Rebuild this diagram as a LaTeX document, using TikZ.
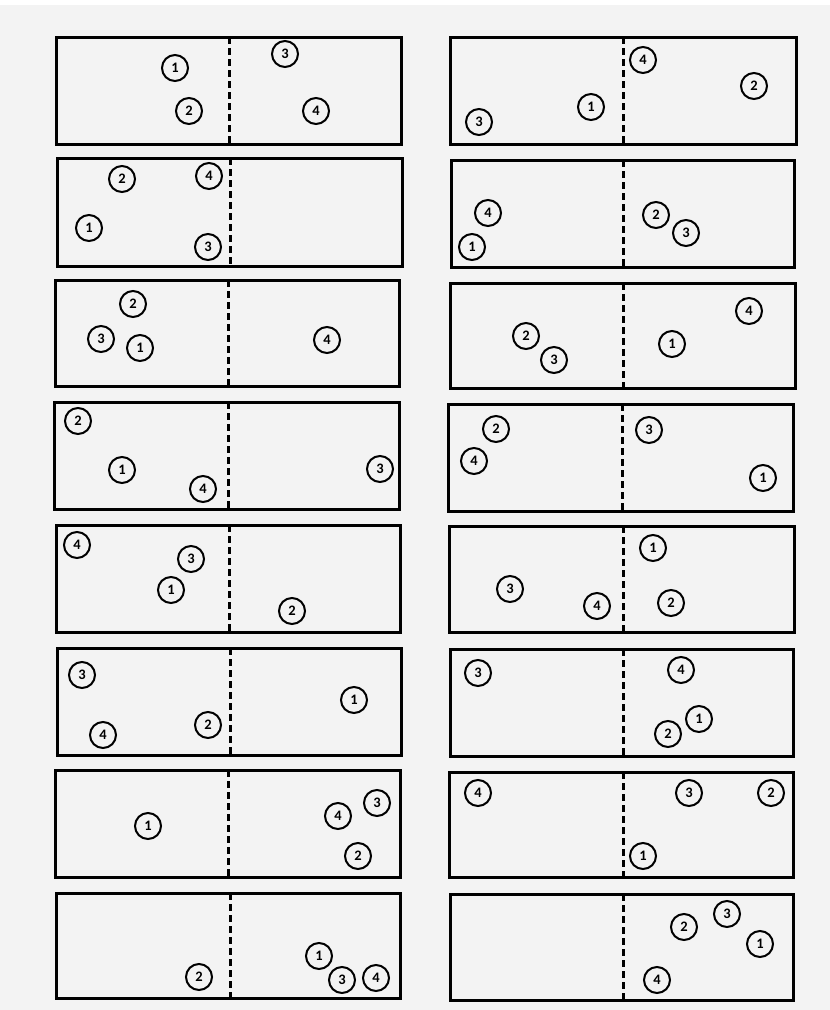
\documentclass[tikz,border=0pt]{standalone}
\usepackage{fontspec}
\newfontfamily\carlito{Carlito}
\definecolor{bgc}{HTML}{F3F3F3}
\tikzset{
  panel/.style={draw=black, line width=3pt},
  divider/.style={draw=black, line width=3pt, dash pattern=on 7pt off 4pt},
  ball/.style={circle, draw=black, line width=2pt, minimum size=26pt, inner sep=0pt,
    font=\carlito\bfseries\fontsize{14.5}{14.5}\selectfont}
}
\begin{document}
\begin{tikzpicture}[x=1pt,y=-1pt]
\useasboundingbox (0,0) rectangle (830,1010);
\fill[white] (0,0) rectangle (830,1010);
\fill[bgc] (0,5) rectangle (830,1010);
\foreach \n/\xa/\ya/\xb/\yb/\xd in {
  1/56/37/401/144/229, 2/450/37/796/144/623,
  3/57/158/402/266/230, 4/451/160/794/267/623,
  5/55/280/399/386/228, 6/450/283/795/388/623,
  7/54/402/399/509/228, 8/448/404/793/511/622,
  9/56/525/400/632/229, 10/449/526/794/632/623,
  11/57/648/401/755/230, 12/450/649/793/756/623,
  13/55/770/400/877/228, 14/449/772/793/877/623,
  15/56/893/400/998/230, 16/450/894/793/1000/623}{
  \draw[panel] (\xa,\ya) rectangle (\xb,\yb);
  \coordinate (t\n) at (\xd,\ya);
  \coordinate (b\n) at (\xd,\yb);
  \draw[divider] (t\n) -- (b\n);
}
\foreach \n/\x/\y/\t in {
  a1/175/68/1, a2/189/111/2, a3/285/54/3, a4/316/111/4,
  b4/643/60/4, b2/754/86/2, b1/591/107/1, b3/479/122/3,
  c2/122/179/2, c4/209/176/4, c1/89/228/1, c3/208/247/3,
  d4/488/213/4, d1/472/247/1, d2/656/215/2, d3/686/233/3,
  e2/133/304/2, e3/101/339/3, e1/140/348/1, e4/327/340/4,
  f4/749/311/4, f2/526/336/2, f3/554/360/3, f1/672/344/1,
  g2/78/421/2, g1/122/470/1, g4/203/489/4, g3/380/469/3,
  h2/496/429/2, h4/474/461/4, h3/649/430/3, h1/763/478/1,
  i4/77/545/4, i3/191/559/3, i1/171/590/1, i2/292/611/2,
  j1/653/548/1, j3/510/589/3, j4/597/606/4, j2/671/603/2,
  k3/82/675/3, k4/103/735/4, k2/208/725/2, k1/354/700/1,
  l3/478/673/3, l4/681/670/4, l1/699/719/1, l2/668/734/2,
  m1/148/826/1, m4/338/816/4, m3/377/803/3, m2/358/856/2,
  n4/478/793/4, n3/689/793/3, n2/771/793/2, n1/643/856/1,
  o2/199/977/2, o1/319/956/1, o3/342/980/3, o4/376/978/4,
  p2/684/927/2, p3/727/914/3, p1/760/944/1, p4/657/980/4}{
  \node[ball] (c\n) at (\x,\y) {\t};
}
\end{tikzpicture}
\end{document}
